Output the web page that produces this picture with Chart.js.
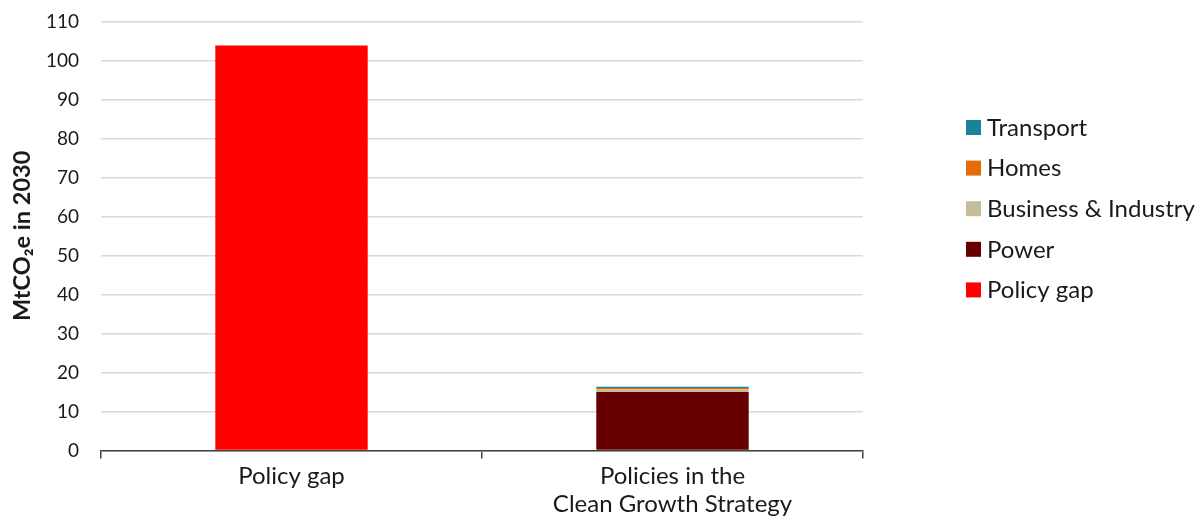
<!DOCTYPE html>
<html>
<head>
<meta charset="utf-8">
<script src="https://cdn.jsdelivr.net/npm/chart.js@4/dist/chart.umd.min.js"></script>
<style>
  html, body { margin: 0; padding: 0; background: #ffffff; }
  #wrap { width: 1200px; height: 528px; }
</style>
</head>
<body>
<div id="wrap"><canvas id="c" width="1200" height="528"></canvas></div>
<script>
// Emissions savings in 2030 (MtCO2e), by policy area
const categories = ['Policy gap', ['Policies in the', 'Clean Growth Strategy']];
const seriesNames = ['Policy gap', 'Power', 'Business & Industry', 'Homes', 'Transport'];
const policyGap = [103.8, null];
const power = [null, 15.0];
const businessIndustry = [null, 0.6];
const homes = [null, 0.4];
const transport = [null, 0.3];
const yTicks = [0, 10, 20, 30, 40, 50, 60, 70, 80, 90, 100, 110];

const colours = ['#ff0000', '#660000', '#c4bd97', '#e36c09', '#17849a'];
const values = [policyGap, power, businessIndustry, homes, transport];

const FONT = 'Lato, "Liberation Sans", sans-serif';
const TEXT = '#1a1a1a';

// Legend drawn on the right, top entry = last stacked series
const sideLegend = {
  id: 'sideLegend',
  afterDraw(chart) {
    const ctx = chart.ctx;
    const ds = chart.data.datasets;
    ctx.save();
    ctx.font = '24px ' + FONT;
    ctx.textBaseline = 'middle';
    ctx.textAlign = 'left';
    for (let i = 0; i < ds.length; i++) {
      const d = ds[ds.length - 1 - i];
      const cy = 127 + i * 40.6;
      ctx.fillStyle = d.backgroundColor;
      ctx.fillRect(966, cy - 7, 15, 15);
      ctx.fillStyle = TEXT;
      ctx.fillText(d.label, 987, cy + 1);
    }
    ctx.restore();
  }
};

new Chart(document.getElementById('c'), {
  type: 'bar',
  data: {
    labels: categories,
    datasets: seriesNames.map((name, i) => ({
      label: name,
      data: values[i],
      backgroundColor: colours[i],
      borderWidth: 0,
      barPercentage: 0.4,
      categoryPercentage: 1.0
    }))
  },
  options: {
    responsive: false,
    animation: false,
    devicePixelRatio: 1,
    layout: { padding: { top: 0, right: 337, bottom: 6, left: 0 } },
    plugins: {
      legend: { display: false },
      tooltip: { enabled: false }
    },
    scales: {
      x: {
        stacked: true,
        offset: true,
        grid: {
          offset: true,
          drawOnChartArea: false,
          drawTicks: true,
          tickLength: 8,
          color: '#404040',
          lineWidth: 1.5
        },
        border: { display: true, color: '#404040', width: 1.5 },
        ticks: {
          color: TEXT,
          font: { family: FONT, size: 24, lineHeight: 1.2 },
          padding: 3,
          maxRotation: 0,
          autoSkip: false
        }
      },
      y: {
        stacked: true,
        min: 0,
        max: 110,
        afterBuildTicks(scale) { scale.ticks = yTicks.map(v => ({ value: v })); },
        afterFit(scale) { scale.width = 101; },
        grid: {
          color: '#d9d9d9',
          lineWidth: 1.5,
          drawTicks: true,
          tickLength: 12,
          tickColor: 'rgba(0,0,0,0)'
        },
        border: { display: false },
        ticks: {
          color: TEXT,
          font: { family: FONT, size: 19 },
          padding: 10
        },
        title: {
          display: true,
          text: 'MtCO₂e in 2030',
          color: TEXT,
          font: { family: FONT, size: 23.5, weight: 'bold', lineHeight: 1.2 },
          padding: { top: 8, bottom: 11 }
        }
      }
    }
  },
  plugins: [sideLegend]
});
</script>
</body>
</html>
